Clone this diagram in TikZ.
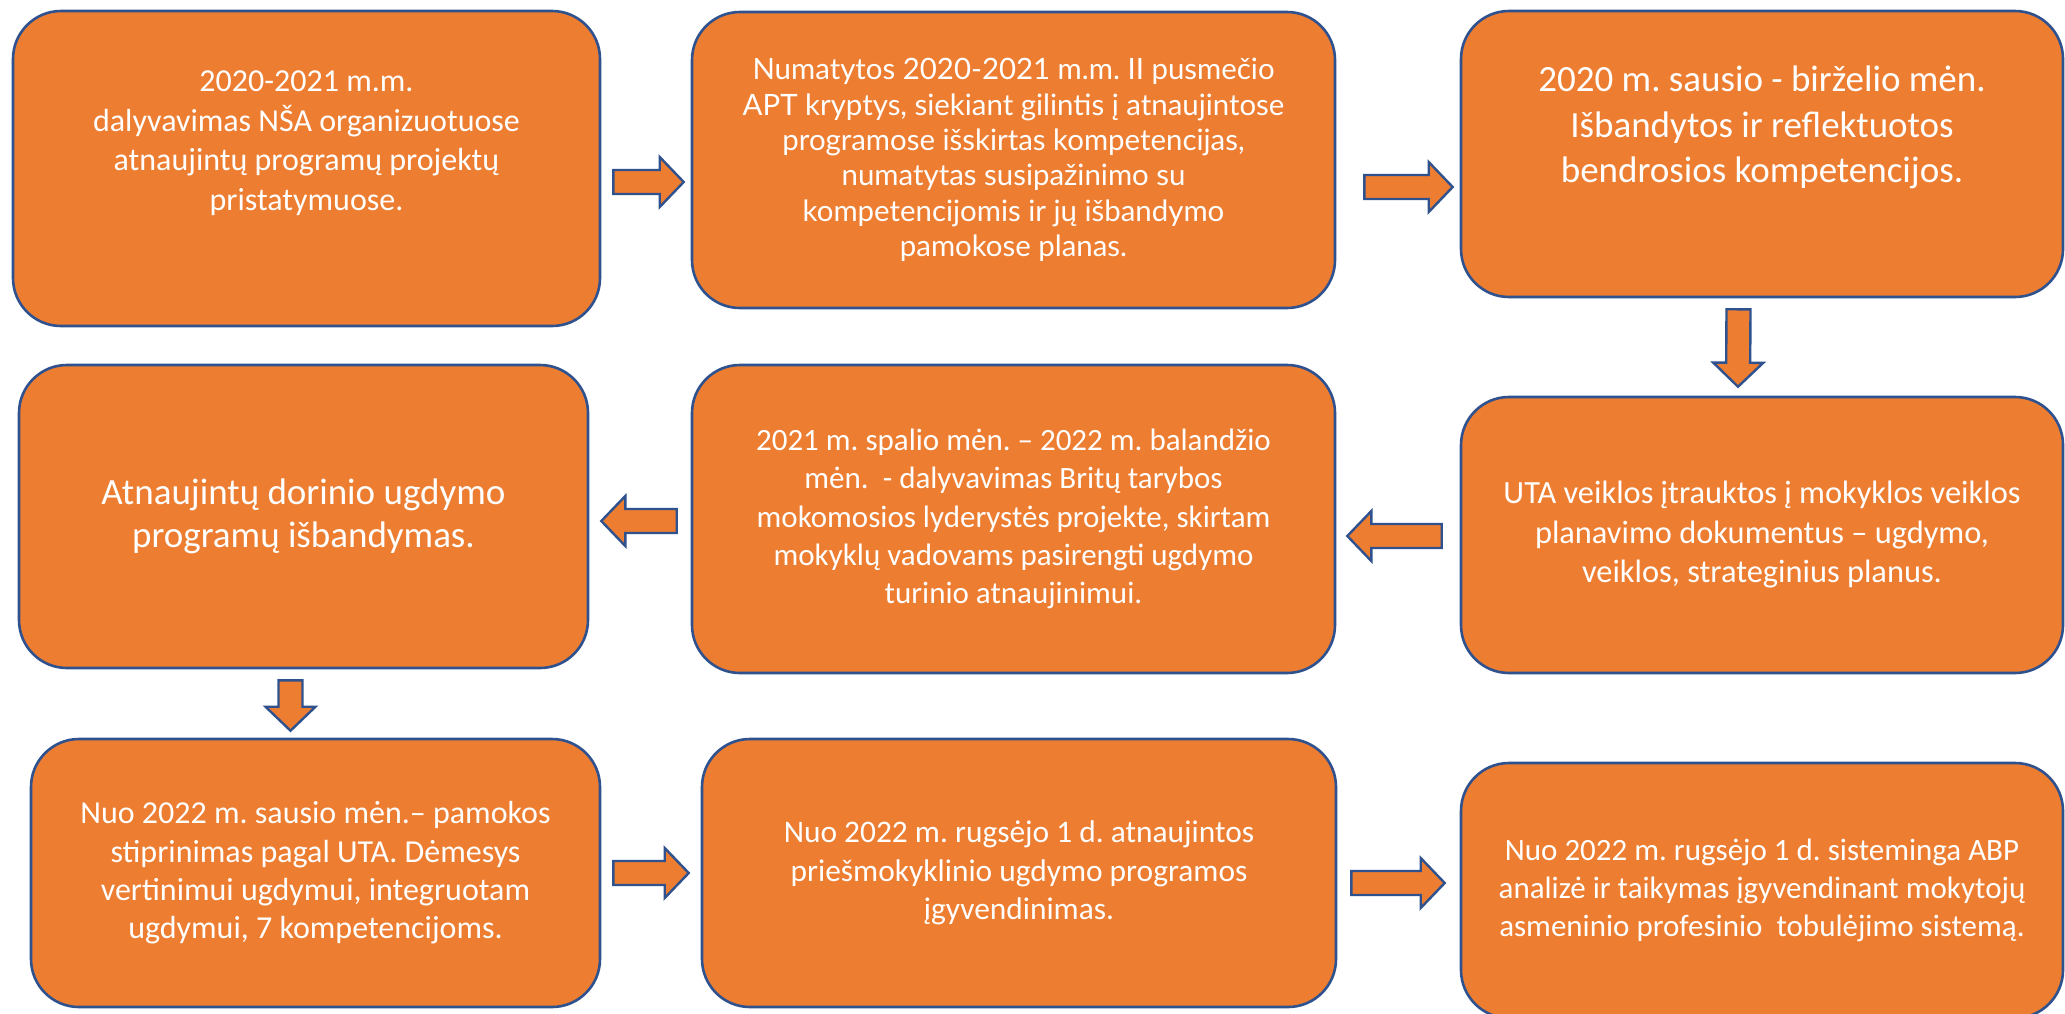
\documentclass[tikz,border=0pt]{standalone}
\usepackage{fontspec}
\setmainfont{Carlito}
\newfontfamily\avenir{Lato}
\usepackage{tikz}
\usetikzlibrary{calc}
\definecolor{boxorange}{HTML}{ED7D31}
\definecolor{boxblue}{HTML}{2F528F}
\tikzset{
  stagebox/.style={draw=boxblue, fill=boxorange, line width=1.3pt, rounded corners=24pt,
    text=white, align=center, inner sep=0pt},
  fatarrow/.style={draw=boxblue, fill=boxorange, line width=1.2pt, line join=miter}
}
\newcommand{\blockarrow}[2]{
  \coordinate (hb) at ($(#2)!12pt!(#1)$);
  \draw[fatarrow] ($(#1)!6pt!90:(#2)$) -- ($(hb)!6pt!90:(#2)$) -- ($(hb)!12.5pt!90:(#2)$) -- (#2)
    -- ($(hb)!12.5pt!-90:(#2)$) -- ($(hb)!6pt!-90:(#2)$) -- ($(#1)!6pt!-90:(#2)$) -- cycle;
}
\frenchspacing

\begin{document}
\begin{tikzpicture}[x=0.5pt, y=-0.5pt]
  \useasboundingbox[fill=white] (0,0) rectangle (2065,1013);

  \node[stagebox, minimum width=293.5pt, minimum height=157.5pt, font=\fontsize{16}{19.75}\selectfont] (a) at (306.5,168.5)
    {2020-2021 m.m.\\ dalyvavimas NŠA organizuotuose\\ atnaujintų programų projektų\\ pristatymuose.\\[2pt]\strut};
  \node[stagebox, minimum width=321.5pt, minimum height=148pt, font=\avenir\fontsize{14.7}{17.7}\selectfont] (b) at (1013.5,160)
    {Numatytos 2020-2021 m.m. II pusmečio\\ APT kryptys, siekiant gilintis į atnaujintose\\ programose išskirtas kompetencijas,\\ numatytas susipažinimo su\\ kompetencijomis ir jų išbandymo\\ pamokose planas.};
  \node[stagebox, minimum width=301pt, minimum height=143pt, font=\fontsize{18.5}{22.75}\selectfont] (c) at (1762,154)
    {2020 m. sausio - birželio mėn.\\ Išbandytos ir reflektuotos\\ bendrosios kompetencijos.\\ \strut};
  \node[stagebox, minimum width=301pt, minimum height=138pt, font=\fontsize{16.2}{19.75}\selectfont] (d) at (1762,535)
    {UTA veiklos įtrauktos į mokyklos veiklos\\ planavimo dokumentus – ugdymo,\\ veiklos, strateginius planus.};
  \node[stagebox, minimum width=321.5pt, minimum height=154pt, font=\fontsize{15.5}{19.15}\selectfont] (e) at (1013.5,519)
    {2021 m. spalio mėn. – 2022 m. balandžio\\ mėn.\ \ - dalyvavimas Britų tarybos\\ mokomosios lyderystės projekte, skirtam\\ mokyklų vadovams pasirengti ugdymo\\ turinio atnaujinimui.};
  \node[stagebox, minimum width=284.5pt, minimum height=151.5pt, font=\fontsize{18.5}{21.7}\selectfont] (f) at (303.5,516.5)
    {Atnaujintų dorinio ugdymo\\ programų išbandymas.};
  \node[stagebox, minimum width=284.5pt, minimum height=134pt, font=\fontsize{16}{19.2}\selectfont] (g) at (315.5,873)
    {Nuo 2022 m. sausio mėn.– pamokos\\ stiprinimas pagal UTA. Dėmesys\\ vertinimui ugdymui, integruotam\\ ugdymui, 7 kompetencijoms.};
  \node[stagebox, minimum width=317pt, minimum height=134pt, font=\fontsize{15.7}{19.2}\selectfont] (h) at (1019,873)
    {Nuo 2022 m. rugsėjo 1 d. atnaujintos\\ priešmokyklinio ugdymo programos\\ įgyvendinimas.};
  \node[stagebox, minimum width=301pt, minimum height=127.5pt, font=\fontsize{15.5}{19}\selectfont] (i) at (1762,890.5)
    {Nuo 2022 m. rugsėjo 1 d. sisteminga ABP\\ analizė ir taikymas įgyvendinant mokytojų\\ asmeninio profesinio\ \ tobulėjimo sistemą.};

  \coordinate (ab1) at ($(a.east)+(12,13.5)$);
  \coordinate (ab2) at ($(b.west)+(-7,22)$);
  \coordinate (bc1) at ($(b.east)+(28,27)$);
  \coordinate (bc2) at ($(c.west)+(-7,33)$);
  \coordinate (cd1) at ($(c.south)+(-23.5,11)$);
  \coordinate (cd2) at ($(d.north)+(-24,-9)$);
  \coordinate (de1) at ($(d.west)+(-18,1)$);
  \coordinate (de2) at ($(e.east)+(11,17)$);
  \coordinate (ef1) at ($(e.west)+(-14,2)$);
  \coordinate (ef2) at ($(f.east)+(12,4.5)$);
  \coordinate (fg1) at ($(f.south)+(-13,11)$);
  \coordinate (fg2) at ($(g.north)+(-25,-7)$);
  \coordinate (gh1) at ($(g.east)+(12,0)$);
  \coordinate (gh2) at ($(h.west)+(-12,0)$);
  \coordinate (hi1) at ($(h.east)+(14,10)$);
  \coordinate (hi2) at ($(i.west)+(-15,-7.5)$);

  \blockarrow{ab1}{ab2}
  \blockarrow{bc1}{bc2}
  \blockarrow{cd1}{cd2}
  \blockarrow{de1}{de2}
  \blockarrow{ef1}{ef2}
  \blockarrow{fg1}{fg2}
  \blockarrow{gh1}{gh2}
  \blockarrow{hi1}{hi2}
\end{tikzpicture}
\end{document}
